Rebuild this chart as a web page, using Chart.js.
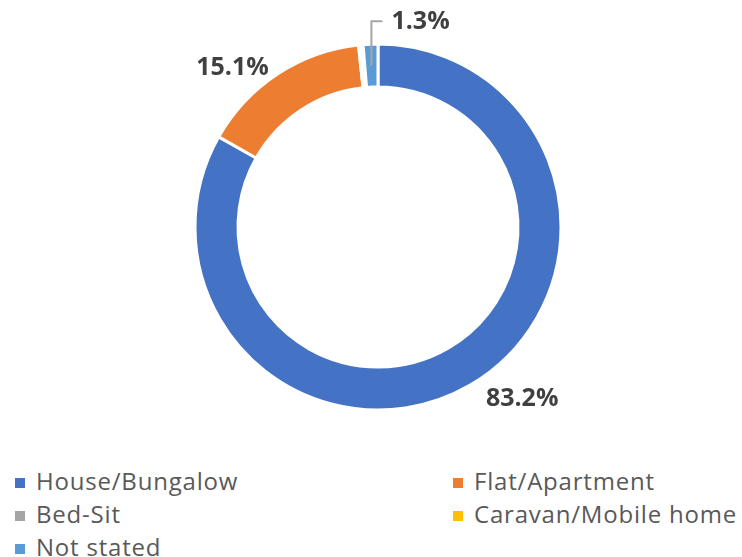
<!DOCTYPE html>
<html>
<head>
<meta charset="utf-8">
<script src="https://cdn.jsdelivr.net/npm/chart.js@4.4.1/dist/chart.umd.min.js"></script>
<style>
    body { margin: 0; background: #ffffff; }
    #wrap { position: relative; width: 742px; height: 557px; }
    #chartBox { position: absolute; left: 0; top: 0; width: 742px; height: 454px; }
    #legend {
        position: absolute; left: 15px; top: 464px; width: 727px;
        display: grid; grid-template-columns: 438px 289px;
        font-family: "Open Sans", sans-serif; font-size: 24px; letter-spacing: 0.8px; color: #595959;
    }
    .item { height: 33px; line-height: 33px; white-space: nowrap; }
    .swatch { display: inline-block; width: 10px; height: 10px; margin-right: 11px; vertical-align: 2px; }
</style>
</head>
<body>
<div id="wrap">
    <div id="chartBox"><canvas id="pieChart"></canvas></div>
    <div id="legend"></div>
</div>
<script>
// Dwelling type shares (%)
const categories = ['House/Bungalow', 'Flat/Apartment', 'Bed-Sit', 'Caravan/Mobile home', 'Not stated'];
const shares = [83.2, 15.1, 0.2, 0.2, 1.3];
const valueLabels = ['83.2%', '15.1%', '', '', '1.3%'];
const colors = ['#4472C4', '#ED7D31', '#A5A5A5', '#FFC000', '#5B9BD5'];

// label offsets from the outer edge of each slice (null = no label)
const labelOffsets = [[52, 14], [-45, -6], null, null, [50, -22]];

// Draw percentage labels next to the slices
const sliceLabels = {
    id: 'sliceLabels',
    afterDatasetsDraw(chart) {
        const ctx = chart.ctx;
        const arcs = chart.getDatasetMeta(0).data;
        ctx.save();
        ctx.font = 'bold 25px "Open Sans", sans-serif';
        ctx.fillStyle = '#404040';
        ctx.textAlign = 'center';
        ctx.textBaseline = 'middle';
        arcs.forEach(function(arc, i) {
            if (!labelOffsets[i] || !valueLabels[i]) return;
            let p = arc.getProps(['x', 'y', 'startAngle', 'endAngle', 'innerRadius', 'outerRadius'], true);
            let mid = (p.startAngle + p.endAngle) / 2;
            let ox = p.x + Math.cos(mid) * p.outerRadius;
            let oy = p.y + Math.sin(mid) * p.outerRadius;
            let lx = ox + labelOffsets[i][0];
            let ly = oy + labelOffsets[i][1];
            ctx.fillText(valueLabels[i], lx, ly);

            // leader line for the thin slice
            if (i === 4) {
                let rMid = (p.innerRadius + p.outerRadius) / 2;
                let sx = p.x + Math.cos(mid) * rMid;
                let sy = p.y + Math.sin(mid) * rMid;
                let w = ctx.measureText(valueLabels[i]).width;
                ctx.beginPath();
                ctx.strokeStyle = '#A6A6A6';
                ctx.lineWidth = 2;
                ctx.moveTo(sx, sy);
                ctx.lineTo(sx, ly - 1);
                ctx.lineTo(lx - w / 2 - 9, ly - 1);
                ctx.stroke();
            }
        });
        ctx.restore();
    }
};

let ctx = document.getElementById('pieChart').getContext('2d');
new Chart(ctx, {
    type: 'doughnut',
    data: {
        labels: categories,
        datasets: [{
            data: shares,
            backgroundColor: colors,
            borderColor: '#ffffff',
            borderWidth: 3
        }]
    },
    options: {
        responsive: true,
        maintainAspectRatio: false,
        animation: false,
        radius: 183,
        cutout: '76.5%',
        layout: { padding: { left: 14, right: 0, top: 0, bottom: 0 } },
        plugins: {
            legend: { display: false },
            tooltip: { enabled: false }
        }
    },
    plugins: [sliceLabels]
});

// HTML legend in two columns
let legend = document.getElementById('legend');
categories.forEach(function(name, i) {
    legend.insertAdjacentHTML('beforeend',
        `<div class="item"><span class="swatch" style="background:${colors[i]}"></span>${name}</div>`);
});
</script>
</body>
</html>
